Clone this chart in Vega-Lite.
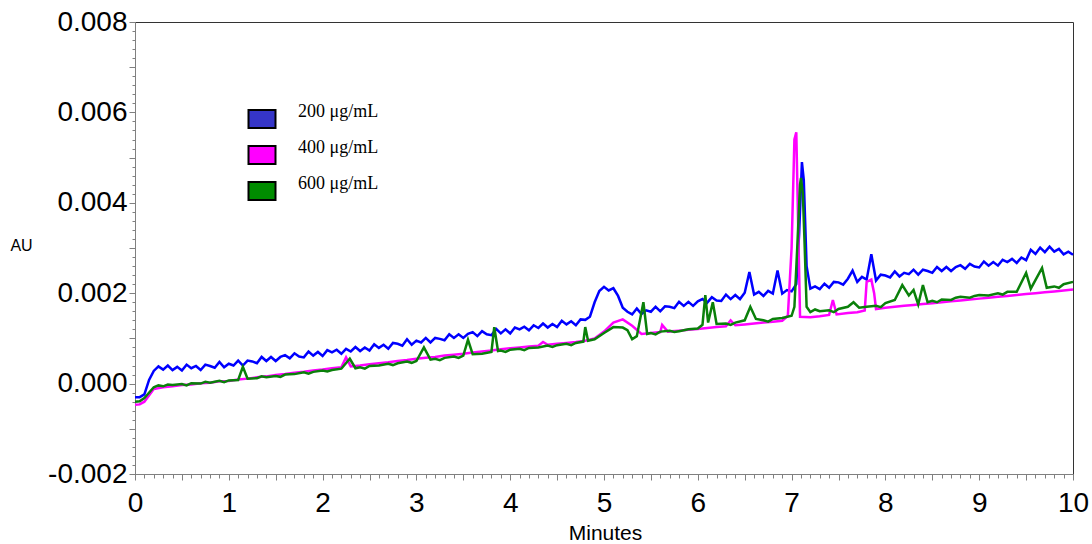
{
  "$schema": "https://vega.github.io/schema/vega-lite/v6.json",
  "width": 938,
  "height": 452,
  "autosize": {"type": "none"},
  "padding": {"left": 135, "top": 22, "right": 19, "bottom": 70},
  "background": "white",
  "config": {
    "view": {"stroke": "#333333", "strokeWidth": 1},
    "axis": {
      "domainColor": "#808080",
      "tickColor": "#808080",
      "labelColor": "black",
      "labelFont": "Liberation Sans",
      "labelFontSize": 28,
      "titleFont": "Liberation Sans",
      "titleFontWeight": "normal",
      "titleColor": "black",
      "grid": false,
      "labelOverlap": false,
      "labelFlush": false,
      "labelBound": false
    }
  },
  "encoding": {
    "x": {
      "field": "t",
      "type": "quantitative",
      "scale": {"domain": [0, 10], "nice": false, "zero": false},
      "axis": {
        "title": "Minutes",
        "titleFontSize": 21,
        "titleX": 470,
        "titleY": 59,
        "titleBaseline": "middle",
        "titleAlign": "center",
        "values": [0,0.1,0.2,0.3,0.4,0.5,0.6,0.7,0.8,0.9,1,1.1,1.2,1.3,1.4,1.5,1.6,1.7,1.8,1.9,2,2.1,2.2,2.3,2.4,2.5,2.6,2.7,2.8,2.9,3,3.1,3.2,3.3,3.4,3.5,3.6,3.7,3.8,3.9,4,4.1,4.2,4.3,4.4,4.5,4.6,4.7,4.8,4.9,5,5.1,5.2,5.3,5.4,5.5,5.6,5.7,5.8,5.9,6,6.1,6.2,6.3,6.4,6.5,6.6,6.7,6.8,6.9,7,7.1,7.2,7.3,7.4,7.5,7.6,7.7,7.8,7.9,8,8.1,8.2,8.3,8.4,8.5,8.6,8.7,8.8,8.9,9,9.1,9.2,9.3,9.4,9.5,9.6,9.7,9.8,9.9,10],
        "labelExpr": "round(datum.value*10) % 10 === 0 ? format(datum.value, 'd') : ''",
        "tickSize": {"condition": {"test": "round(datum.value*10) % 5 === 0", "value": 6}, "value": 4},
        "labelPadding": 9
      }
    },
    "y": {
      "field": "v",
      "type": "quantitative",
      "scale": {"domain": [-0.002, 0.008], "nice": false, "zero": false},
      "axis": {
        "title": "AU",
        "titleFontSize": 16,
        "titleAngle": 0,
        "titleX": -114,
        "titleY": 223,
        "titleAlign": "center",
        "titleBaseline": "middle",
        "values": [-0.002,-0.0018,-0.0016,-0.0014,-0.0012,-0.001,-0.0008,-0.0006,-0.0004,-0.0002,0,0.0002,0.0004,0.0006,0.0008,0.001,0.0012,0.0014,0.0016,0.0018,0.002,0.0022,0.0024,0.0026,0.0028,0.003,0.0032,0.0034,0.0036,0.0038,0.004,0.0042,0.0044,0.0046,0.0048,0.005,0.0052,0.0054,0.0056,0.0058,0.006,0.0062,0.0064,0.0066,0.0068,0.007,0.0072,0.0074,0.0076,0.0078,0.008],
        "labelExpr": "round(datum.value*10000) % 20 === 0 ? replace(format(datum.value, '.3f'), '\u2212', '-') : ''",
        "tickSize": {"condition": {"test": "round(datum.value*10000) % 10 === 0", "value": 6}, "value": 3},
        "labelPadding": 2
      }
    }
  },
  "layer": [
    {
      "data": {"values": [
        {"t":0.00,"v":-0.00030},{"t":0.05,"v":-0.00030},{"t":0.10,"v":-0.00024},{"t":0.15,"v":0.00008},{"t":0.20,"v":0.00028},{"t":0.25,"v":0.00038},{"t":0.30,"v":0.00031},{"t":0.35,"v":0.00040},{"t":0.40,"v":0.00030},{"t":0.45,"v":0.00037},
        {"t":0.50,"v":0.00029},{"t":0.55,"v":0.00042},{"t":0.60,"v":0.00034},{"t":0.65,"v":0.00039},{"t":0.70,"v":0.00030},{"t":0.75,"v":0.00042},{"t":0.80,"v":0.00039},{"t":0.85,"v":0.00035},{"t":0.90,"v":0.00048},{"t":0.95,"v":0.00036},
        {"t":1.00,"v":0.00044},{"t":1.05,"v":0.00040},{"t":1.10,"v":0.00051},{"t":1.15,"v":0.00040},{"t":1.20,"v":0.00051},{"t":1.25,"v":0.00049},{"t":1.30,"v":0.00045},{"t":1.35,"v":0.00059},{"t":1.40,"v":0.00050},{"t":1.45,"v":0.00059},
        {"t":1.50,"v":0.00050},{"t":1.55,"v":0.00059},{"t":1.60,"v":0.00063},{"t":1.65,"v":0.00056},{"t":1.70,"v":0.00067},{"t":1.75,"v":0.00060},{"t":1.80,"v":0.00058},{"t":1.85,"v":0.00071},{"t":1.90,"v":0.00062},{"t":1.95,"v":0.00070},
        {"t":2.00,"v":0.00061},{"t":2.05,"v":0.00074},{"t":2.10,"v":0.00069},{"t":2.15,"v":0.00075},{"t":2.20,"v":0.00066},{"t":2.25,"v":0.00077},{"t":2.30,"v":0.00071},{"t":2.35,"v":0.00081},{"t":2.40,"v":0.00072},{"t":2.45,"v":0.00080},
        {"t":2.50,"v":0.00073},{"t":2.55,"v":0.00087},{"t":2.60,"v":0.00079},{"t":2.65,"v":0.00086},{"t":2.70,"v":0.00077},{"t":2.75,"v":0.00090},{"t":2.80,"v":0.00088},{"t":2.85,"v":0.00084},{"t":2.90,"v":0.00098},{"t":2.95,"v":0.00086},
        {"t":3.00,"v":0.00095},{"t":3.05,"v":0.00091},{"t":3.10,"v":0.00101},{"t":3.15,"v":0.00091},{"t":3.20,"v":0.00101},{"t":3.25,"v":0.00099},{"t":3.30,"v":0.00096},{"t":3.35,"v":0.00109},{"t":3.40,"v":0.00101},{"t":3.45,"v":0.00109},
        {"t":3.50,"v":0.00101},{"t":3.55,"v":0.00110},{"t":3.60,"v":0.00114},{"t":3.65,"v":0.00105},{"t":3.70,"v":0.00116},{"t":3.75,"v":0.00109},{"t":3.80,"v":0.00107},{"t":3.85,"v":0.00121},{"t":3.90,"v":0.00111},{"t":3.95,"v":0.00120},
        {"t":4.00,"v":0.00111},{"t":4.05,"v":0.00124},{"t":4.10,"v":0.00120},{"t":4.15,"v":0.00126},{"t":4.20,"v":0.00118},{"t":4.25,"v":0.00129},{"t":4.30,"v":0.00123},{"t":4.35,"v":0.00133},{"t":4.40,"v":0.00124},{"t":4.45,"v":0.00132},
        {"t":4.50,"v":0.00125},{"t":4.55,"v":0.00139},{"t":4.60,"v":0.00131},{"t":4.65,"v":0.00138},{"t":4.70,"v":0.00129},{"t":4.75,"v":0.00142},{"t":4.80,"v":0.00141},{"t":4.85,"v":0.00148},{"t":4.90,"v":0.00180},{"t":4.95,"v":0.00205},
        {"t":5.00,"v":0.00214},{"t":5.05,"v":0.00206},{"t":5.10,"v":0.00211},{"t":5.15,"v":0.00194},{"t":5.20,"v":0.00168},{"t":5.25,"v":0.00159},{"t":5.30,"v":0.00153},{"t":5.35,"v":0.00166},{"t":5.40,"v":0.00154},{"t":5.45,"v":0.00162},
        {"t":5.50,"v":0.00159},{"t":5.55,"v":0.00170},{"t":5.60,"v":0.00160},{"t":5.65,"v":0.00171},{"t":5.70,"v":0.00170},{"t":5.75,"v":0.00167},{"t":5.80,"v":0.00181},{"t":5.85,"v":0.00172},{"t":5.90,"v":0.00181},{"t":5.95,"v":0.00172},
        {"t":6.00,"v":0.00182},{"t":6.05,"v":0.00187},{"t":6.10,"v":0.00179},{"t":6.15,"v":0.00191},{"t":6.20,"v":0.00184},{"t":6.25,"v":0.00183},{"t":6.30,"v":0.00197},{"t":6.35,"v":0.00187},{"t":6.40,"v":0.00196},{"t":6.45,"v":0.00187},
        {"t":6.50,"v":0.00201},{"t":6.55,"v":0.00247},{"t":6.60,"v":0.00197},{"t":6.65,"v":0.00203},{"t":6.70,"v":0.00194},{"t":6.75,"v":0.00205},{"t":6.80,"v":0.00199},{"t":6.85,"v":0.00250},{"t":6.90,"v":0.00199},{"t":6.95,"v":0.00207},
        {"t":7.00,"v":0.00204},{"t":7.05,"v":0.00220},{"t":7.08,"v":0.00330},{"t":7.11,"v":0.00490},{"t":7.13,"v":0.00450},{"t":7.16,"v":0.00260},{"t":7.20,"v":0.00210},{"t":7.25,"v":0.00215},{"t":7.30,"v":0.00209},{"t":7.35,"v":0.00221},
        {"t":7.40,"v":0.00212},{"t":7.45,"v":0.00225},{"t":7.50,"v":0.00224},{"t":7.55,"v":0.00219},{"t":7.60,"v":0.00232},{"t":7.65,"v":0.00250},{"t":7.70,"v":0.00225},{"t":7.75,"v":0.00236},{"t":7.80,"v":0.00230},{"t":7.85,"v":0.00286},
        {"t":7.90,"v":0.00228},{"t":7.95,"v":0.00241},{"t":8.00,"v":0.00239},{"t":8.05,"v":0.00235},{"t":8.10,"v":0.00248},{"t":8.15,"v":0.00237},{"t":8.20,"v":0.00245},{"t":8.25,"v":0.00242},{"t":8.30,"v":0.00252},{"t":8.35,"v":0.00241},
        {"t":8.40,"v":0.00252},{"t":8.45,"v":0.00249},{"t":8.50,"v":0.00245},{"t":8.55,"v":0.00258},{"t":8.60,"v":0.00249},{"t":8.65,"v":0.00258},{"t":8.70,"v":0.00249},{"t":8.75,"v":0.00258},{"t":8.80,"v":0.00262},{"t":8.85,"v":0.00254},
        {"t":8.90,"v":0.00265},{"t":8.95,"v":0.00259},{"t":9.00,"v":0.00257},{"t":9.05,"v":0.00270},{"t":9.10,"v":0.00261},{"t":9.15,"v":0.00269},{"t":9.20,"v":0.00261},{"t":9.25,"v":0.00274},{"t":9.30,"v":0.00269},{"t":9.35,"v":0.00276},
        {"t":9.40,"v":0.00267},{"t":9.45,"v":0.00279},{"t":9.50,"v":0.00273},{"t":9.55,"v":0.00296},{"t":9.60,"v":0.00287},{"t":9.65,"v":0.00301},{"t":9.70,"v":0.00291},{"t":9.75,"v":0.00303},{"t":9.80,"v":0.00292},{"t":9.85,"v":0.00298},
        {"t":9.90,"v":0.00286},{"t":9.95,"v":0.00292},{"t":10.00,"v":0.00285}
      ]},
      "mark": {"type": "line", "strokeWidth": 2.5},
      "encoding": {
        "stroke": {
          "datum": "200",
          "type": "nominal",
          "scale": {"domain": ["200", "400", "600"], "range": ["#0000FF", "#FF00FF", "#0A800A"]},
          "legend": null
        }
      }
    },
    {
      "data": {"values": [
        {"t":0.00,"v":-0.00047},{"t":0.05,"v":-0.00046},{"t":0.10,"v":-0.00040},{"t":0.20,"v":-0.00012},{"t":0.30,"v":-0.00008},{"t":0.40,"v":-0.00006},{"t":0.50,"v":-0.00003},{"t":0.60,"v":-0.00002},{"t":0.70,"v":0.00001},{"t":0.80,"v":0.00002},
        {"t":0.90,"v":0.00005},{"t":1.00,"v":0.00006},{"t":1.10,"v":0.00009},{"t":1.20,"v":0.00011},{"t":1.30,"v":0.00014},{"t":1.40,"v":0.00016},{"t":1.50,"v":0.00019},{"t":1.60,"v":0.00021},{"t":1.70,"v":0.00024},{"t":1.80,"v":0.00026},
        {"t":1.90,"v":0.00029},{"t":2.00,"v":0.00031},{"t":2.10,"v":0.00034},{"t":2.20,"v":0.00036},{"t":2.25,"v":0.00058},{"t":2.30,"v":0.00038},{"t":2.40,"v":0.00040},{"t":2.50,"v":0.00043},{"t":2.60,"v":0.00045},{"t":2.70,"v":0.00047},
        {"t":2.80,"v":0.00050},{"t":2.90,"v":0.00052},{"t":3.00,"v":0.00055},{"t":3.10,"v":0.00057},{"t":3.20,"v":0.00059},{"t":3.30,"v":0.00062},{"t":3.40,"v":0.00064},{"t":3.50,"v":0.00066},{"t":3.60,"v":0.00069},{"t":3.70,"v":0.00071},
        {"t":3.80,"v":0.00073},{"t":3.90,"v":0.00076},{"t":4.00,"v":0.00078},{"t":4.10,"v":0.00080},{"t":4.20,"v":0.00082},{"t":4.30,"v":0.00084},{"t":4.35,"v":0.00092},{"t":4.40,"v":0.00086},{"t":4.50,"v":0.00088},{"t":4.60,"v":0.00090},
        {"t":4.70,"v":0.00092},{"t":4.80,"v":0.00095},{"t":4.90,"v":0.00100},{"t":5.00,"v":0.00115},{"t":5.10,"v":0.00135},{"t":5.20,"v":0.00142},{"t":5.30,"v":0.00128},{"t":5.40,"v":0.00110},{"t":5.50,"v":0.00112},{"t":5.60,"v":0.00114},
        {"t":5.62,"v":0.00130},{"t":5.68,"v":0.00115},{"t":5.80,"v":0.00117},{"t":5.90,"v":0.00119},{"t":6.00,"v":0.00121},{"t":6.10,"v":0.00123},{"t":6.20,"v":0.00125},{"t":6.30,"v":0.00127},{"t":6.35,"v":0.00140},{"t":6.40,"v":0.00129},
        {"t":6.50,"v":0.00131},{"t":6.60,"v":0.00133},{"t":6.70,"v":0.00135},{"t":6.80,"v":0.00137},{"t":6.90,"v":0.00139},{"t":6.96,"v":0.00150},{"t":7.00,"v":0.00300},{"t":7.03,"v":0.00540},{"t":7.05,"v":0.00556},{"t":7.07,"v":0.00350},
        {"t":7.09,"v":0.00148},{"t":7.20,"v":0.00147},{"t":7.30,"v":0.00149},{"t":7.40,"v":0.00152},{"t":7.44,"v":0.00185},{"t":7.48,"v":0.00153},{"t":7.60,"v":0.00156},{"t":7.70,"v":0.00158},{"t":7.78,"v":0.00162},{"t":7.80,"v":0.00225},
        {"t":7.85,"v":0.00230},{"t":7.88,"v":0.00200},{"t":7.90,"v":0.00165},{"t":8.00,"v":0.00168},{"t":8.10,"v":0.00170},{"t":8.20,"v":0.00172},{"t":8.30,"v":0.00174},{"t":8.40,"v":0.00176},{"t":8.50,"v":0.00178},{"t":8.60,"v":0.00180},
        {"t":8.70,"v":0.00182},{"t":8.80,"v":0.00184},{"t":8.90,"v":0.00186},{"t":9.00,"v":0.00188},{"t":9.10,"v":0.00190},{"t":9.20,"v":0.00192},{"t":9.30,"v":0.00194},{"t":9.40,"v":0.00196},{"t":9.50,"v":0.00198},{"t":9.60,"v":0.00200},
        {"t":9.70,"v":0.00202},{"t":9.80,"v":0.00204},{"t":9.90,"v":0.00206},{"t":10.00,"v":0.00208}
      ]},
      "mark": {"type": "line", "strokeWidth": 2.5},
      "encoding": {"stroke": {"datum": "400", "type": "nominal", "legend": null}}
    },
    {
      "data": {"values": [
        {"t":0.00,"v":-0.00040},{"t":0.05,"v":-0.00039},{"t":0.10,"v":-0.00032},{"t":0.20,"v":-0.00008},{"t":0.25,"v":-0.00004},{"t":0.30,"v":-0.00006},{"t":0.35,"v":-0.00002},{"t":0.40,"v":-0.00003},{"t":0.50,"v":-0.00001},{"t":0.55,"v":-0.00004},{"t":0.60,"v":0.00001},{"t":0.70,"v":0.00000},{"t":0.75,"v":0.00004},{"t":0.80,"v":0.00002},
        {"t":0.90,"v":0.00006},{"t":0.95,"v":0.00003},{"t":1.00,"v":0.00007},{"t":1.10,"v":0.00008},{"t":1.15,"v":0.00037},{"t":1.20,"v":0.00011},{"t":1.30,"v":0.00012},{"t":1.35,"v":0.00016},{"t":1.40,"v":0.00014},{"t":1.50,"v":0.00017},{"t":1.55,"v":0.00015},{"t":1.60,"v":0.00020},{"t":1.70,"v":0.00021},
        {"t":1.80,"v":0.00025},{"t":1.85,"v":0.00022},{"t":1.90,"v":0.00026},{"t":2.00,"v":0.00029},{"t":2.05,"v":0.00027},{"t":2.10,"v":0.00030},{"t":2.20,"v":0.00033},{"t":2.29,"v":0.00055},{"t":2.35,"v":0.00034},{"t":2.40,"v":0.00036},{"t":2.45,"v":0.00033},{"t":2.50,"v":0.00039},{"t":2.60,"v":0.00040},
        {"t":2.70,"v":0.00044},{"t":2.75,"v":0.00041},{"t":2.80,"v":0.00045},{"t":2.90,"v":0.00049},{"t":2.95,"v":0.00046},{"t":3.00,"v":0.00050},{"t":3.08,"v":0.00080},{"t":3.15,"v":0.00053},{"t":3.20,"v":0.00055},{"t":3.25,"v":0.00052},{"t":3.30,"v":0.00057},{"t":3.40,"v":0.00060},{"t":3.45,"v":0.00057},{"t":3.50,"v":0.00062},
        {"t":3.55,"v":0.00097},{"t":3.60,"v":0.00065},{"t":3.70,"v":0.00066},{"t":3.80,"v":0.00070},{"t":3.83,"v":0.00125},{"t":3.87,"v":0.00072},{"t":3.90,"v":0.00073},{"t":3.95,"v":0.00070},{"t":4.00,"v":0.00075},{"t":4.10,"v":0.00077},{"t":4.15,"v":0.00074},{"t":4.20,"v":0.00079},
        {"t":4.30,"v":0.00080},{"t":4.40,"v":0.00084},{"t":4.45,"v":0.00081},{"t":4.50,"v":0.00085},{"t":4.60,"v":0.00088},{"t":4.65,"v":0.00085},{"t":4.70,"v":0.00090},{"t":4.78,"v":0.00093},{"t":4.80,"v":0.00125},{"t":4.83,"v":0.00095},{"t":4.90,"v":0.00098},{"t":5.00,"v":0.00112},
        {"t":5.10,"v":0.00125},{"t":5.20,"v":0.00124},{"t":5.25,"v":0.00118},{"t":5.30,"v":0.00098},{"t":5.35,"v":0.00105},{"t":5.42,"v":0.00180},{"t":5.46,"v":0.00110},{"t":5.50,"v":0.00112},{"t":5.55,"v":0.00109},{"t":5.60,"v":0.00115},{"t":5.70,"v":0.00117},
        {"t":5.75,"v":0.00114},{"t":5.80,"v":0.00116},{"t":5.90,"v":0.00120},{"t":6.00,"v":0.00122},{"t":6.05,"v":0.00130},{"t":6.08,"v":0.00196},{"t":6.11,"v":0.00135},{"t":6.16,"v":0.00180},{"t":6.20,"v":0.00132},{"t":6.30,"v":0.00133},{"t":6.35,"v":0.00130},{"t":6.40,"v":0.00135},
        {"t":6.50,"v":0.00140},{"t":6.56,"v":0.00170},{"t":6.62,"v":0.00143},{"t":6.70,"v":0.00140},{"t":6.75,"v":0.00137},{"t":6.80,"v":0.00143},{"t":6.90,"v":0.00145},{"t":7.00,"v":0.00150},{"t":7.03,"v":0.00170},{"t":7.06,"v":0.00300},{"t":7.09,"v":0.00440},
        {"t":7.10,"v":0.00455},{"t":7.12,"v":0.00420},{"t":7.14,"v":0.00300},{"t":7.16,"v":0.00170},{"t":7.20,"v":0.00158},{"t":7.25,"v":0.00164},{"t":7.30,"v":0.00160},{"t":7.40,"v":0.00162},{"t":7.45,"v":0.00158},{"t":7.50,"v":0.00165},{"t":7.60,"v":0.00170},{"t":7.66,"v":0.00180},
        {"t":7.72,"v":0.00168},{"t":7.80,"v":0.00170},{"t":7.90,"v":0.00172},{"t":7.95,"v":0.00169},{"t":8.00,"v":0.00178},{"t":8.10,"v":0.00185},{"t":8.18,"v":0.00218},{"t":8.25,"v":0.00195},{"t":8.30,"v":0.00207},{"t":8.35,"v":0.00175},{"t":8.40,"v":0.00218},
        {"t":8.45,"v":0.00180},{"t":8.50,"v":0.00183},{"t":8.55,"v":0.00180},{"t":8.60,"v":0.00186},{"t":8.70,"v":0.00185},{"t":8.75,"v":0.00190},{"t":8.80,"v":0.00192},{"t":8.90,"v":0.00190},{"t":8.95,"v":0.00194},{"t":9.00,"v":0.00196},{"t":9.10,"v":0.00195},{"t":9.20,"v":0.00200},{"t":9.25,"v":0.00197},{"t":9.30,"v":0.00203},
        {"t":9.40,"v":0.00203},{"t":9.50,"v":0.00245},{"t":9.55,"v":0.00210},{"t":9.67,"v":0.00256},{"t":9.72,"v":0.00212},{"t":9.80,"v":0.00215},{"t":9.85,"v":0.00212},{"t":9.90,"v":0.00220},{"t":10.00,"v":0.00225}
      ]},
      "mark": {"type": "line", "strokeWidth": 2.5},
      "encoding": {"stroke": {"datum": "600", "type": "nominal", "legend": null}}
    },
    {
      "data": {"values": [
        {"s": "200 μg/mL"}, {"s": "400 μg/mL"}, {"s": "600 μg/mL"}
      ]},
      "mark": {"type": "point", "shape": "square", "filled": true},
      "encoding": {
        "color": {
          "field": "s",
          "type": "nominal",
          "scale": {"domain": ["200 μg/mL", "400 μg/mL", "600 μg/mL"], "range": ["#3535C8", "#FF00FF", "#008C00"]},
          "legend": {
            "title": null,
            "orient": "none",
            "legendX": 117,
            "legendY": 87,
            "padding": 0,
            "symbolType": "M-1.5,-1H1.5V1H-1.5Z",
            "symbolSize": 324,
            "symbolOpacity": 1,
            "symbolStrokeColor": "black",
            "symbolStrokeWidth": 2,
            "labelFont": "Liberation Serif",
            "labelFontSize": 18,
            "labelColor": "black",
            "labelOffset": 26,
            "rowPadding": 7,
            "encode": {
              "symbols": {"update": {"shape": {"value": "M-1.5,-1H1.5V1H-1.5Z"}, "stroke": {"value": "black"}, "strokeWidth": {"value": 2}}},
              "labels": {"update": {"dy": {"value": -7}}}
            }
          }
        }
      }
    }
  ]
}
